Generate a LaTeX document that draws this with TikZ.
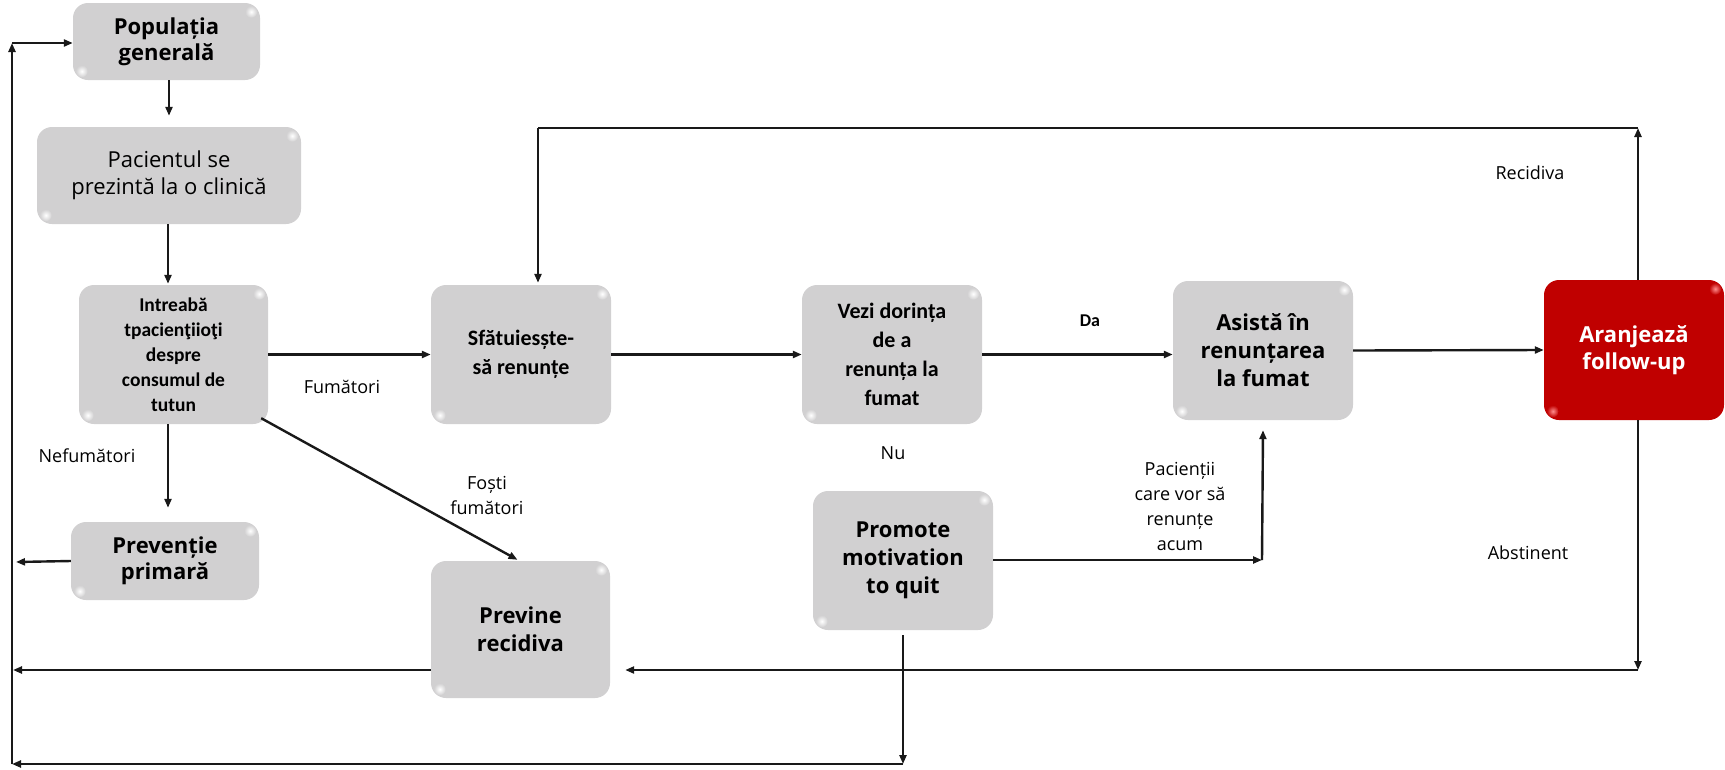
\documentclass[tikz,border=0pt]{standalone}
\usepackage{fontspec}
\setmainfont{Open Sans}
\newfontfamily\carl{Carlito}
\usetikzlibrary{arrows.meta}
\definecolor{boxgray}{RGB}{209,208,209}
\definecolor{boxred}{RGB}{192,0,0}
\definecolor{linecol}{RGB}{25,25,25}
\begin{document}
\begin{tikzpicture}[x=1pt,y=-1pt,
  box/.style={rounded corners=15pt, fill=boxgray, align=center, inner sep=0pt},
  redbox/.style={box, fill=boxred, text=white},
  arr/.style={draw=linecol, line width=2.4pt, -{Triangle[length=9pt,width=7pt]}},
  ln/.style={draw=linecol, line width=2.4pt},
  lbl/.style={font=\fontsize{18}{25}\selectfont, align=center, inner sep=0pt},
  big/.style={font=\fontsize{22}{28}\selectfont\bfseries},
  cal/.style={font=\carl\fontsize{22}{29}\selectfont\bfseries}
]
\useasboundingbox (0,0) rectangle (1725,769);

% boxes
\node[box, font=\fontsize{22}{26}\selectfont\bfseries, minimum width=187pt, minimum height=77pt] (pop) at (166.5,41.5) {Populația\\generală};
\node[box, font=\fontsize{22}{27}\selectfont, minimum width=264pt, minimum height=97pt] (pac) at (169,175.5) {Pacientul se\\prezintă la o clinică};
\node[box, font=\carl\fontsize{19.5}{25}\selectfont\bfseries, minimum width=189pt, minimum height=139pt] (intr) at (173.5,354.5) {Intreabă\\tpacienţiioţi\\despre\\consumul de\\tutun};
\node[box, font=\fontsize{22}{26}\selectfont\bfseries, minimum width=188pt, minimum height=78pt] (prev) at (165,561) {Prevenție\\primară};
\node[box, cal, minimum width=180pt, minimum height=139pt] (sfat) at (521,354.5) {Sfătuiesște-\\să renunțe};
\node[box, big, minimum width=179pt, minimum height=137pt] (rec) at (520.5,629.5) {Previne\\recidiva};
\node[box, font=\carl\fontsize{22}{29}\selectfont\bfseries, minimum width=180pt, minimum height=139pt] (vezi) at (892,354.5) {Vezi dorința\\de a\\renunța la\\fumat};
\node[box, big, minimum width=180pt, minimum height=139pt] (prom) at (903,560.5) {Promote\\motivation\\to quit};
\node[box, big, minimum width=180pt, minimum height=139pt] (asis) at (1263,350.5) {Asistă în\\renunțarea\\la fumat};
\node[redbox, font=\fontsize{22}{27}\selectfont\bfseries, minimum width=180pt, minimum height=140pt] (aran) at (1634,350) {Aranjează\\follow-up};

% glossy corner glints
\foreach \n in {pop,pac,intr,prev,sfat,rec,vezi,prom,asis} {
  \shade[inner color=white, outer color=boxgray] ([xshift=-9pt,yshift=-9pt]\n.north east) circle (6pt);
  \shade[inner color=white, outer color=boxgray] ([xshift=9pt,yshift=9pt]\n.south west) circle (6pt);
}
\shade[inner color=red!45!white, outer color=boxred] ([xshift=-9pt,yshift=-9pt]aran.north east) circle (6pt);
\shade[inner color=red!45!white, outer color=boxred] ([xshift=9pt,yshift=9pt]aran.south west) circle (6pt);

% labels
\node[lbl] (lfum) at (342,387) {Fumători};
\node[lbl] (lnef) at (87,456) {Nefumători};
\node[lbl] (lfos) at (487,495) {Foști\\fumători};
\node[lbl, font=\carl\fontsize{18}{25}\selectfont\bfseries] (lda) at (1090,321) {Da};
\node[lbl] (lnu) at (893,453) {Nu};
\node[lbl] (lpac) at (1180,506) {Pacienții\\care vor să\\renunțe\\acum};
\node[lbl] (lrec) at (1530,173) {Recidiva};
\node[lbl] (labs) at (1528,553) {Abstinent};

% coordinates
\coordinate (tl) at (12,43);
\coordinate (bl) at (12,764);
\coordinate (ml) at (13,670);
\coordinate (pl) at (16,562);
\coordinate (bc) at (903,764);
\coordinate (tr) at (1638,128);
\coordinate (tls) at (538,128);
\coordinate (br) at (1638,670);
\coordinate (pa) at (1262,560);

% connectors
\draw[arr] (pop.south -| 169,0) -- ([yshift=11pt]pac.north -| 169,0);
\draw[arr] (pac.south -| 168,0) -- ([yshift=1pt]intr.north -| 168,0);
\draw[arr] (intr.south -| 168,0) -- ([yshift=14pt]prev.north -| 168,0);
\draw[arr] (prev.west) -- (pl);
\draw[arr] (bl) -- (tl);
\draw[arr] (tl) -- (tl -| pop.west);
\draw[arr] ([yshift=-40.5pt]rec.west) -- (ml);
\draw[arr] ([yshift=-5pt]prom.south) -- (bc);
\draw[arr] (bc) -- (bl);
\draw[arr] (intr.east) -- (sfat.west);
\draw[arr] ([xshift=-7pt,yshift=6pt]intr.south east) -- ([xshift=-3pt,yshift=1pt]rec.north);
\draw[arr] (sfat.east) -- (vezi.west);
\draw[arr] (vezi.east) -- (vezi.east -| asis.west);
\draw[arr] (asis.east) -- (aran.west);
\draw[arr] (tr |- aran.north) -- (tr);
\draw[ln] (tr) -- (tls);
\draw[arr] (tls) -- ([yshift=2pt]tls |- sfat.north);
\draw[arr] (br |- aran.south) -- (br);
\draw[arr] (br) -- ([xshift=15pt]rec.east |- br);
\draw[arr] (prom.east |- pa) -- (pa);
\draw[arr] (pa) -- ([yshift=-10pt]asis.south);
\end{tikzpicture}
\end{document}
